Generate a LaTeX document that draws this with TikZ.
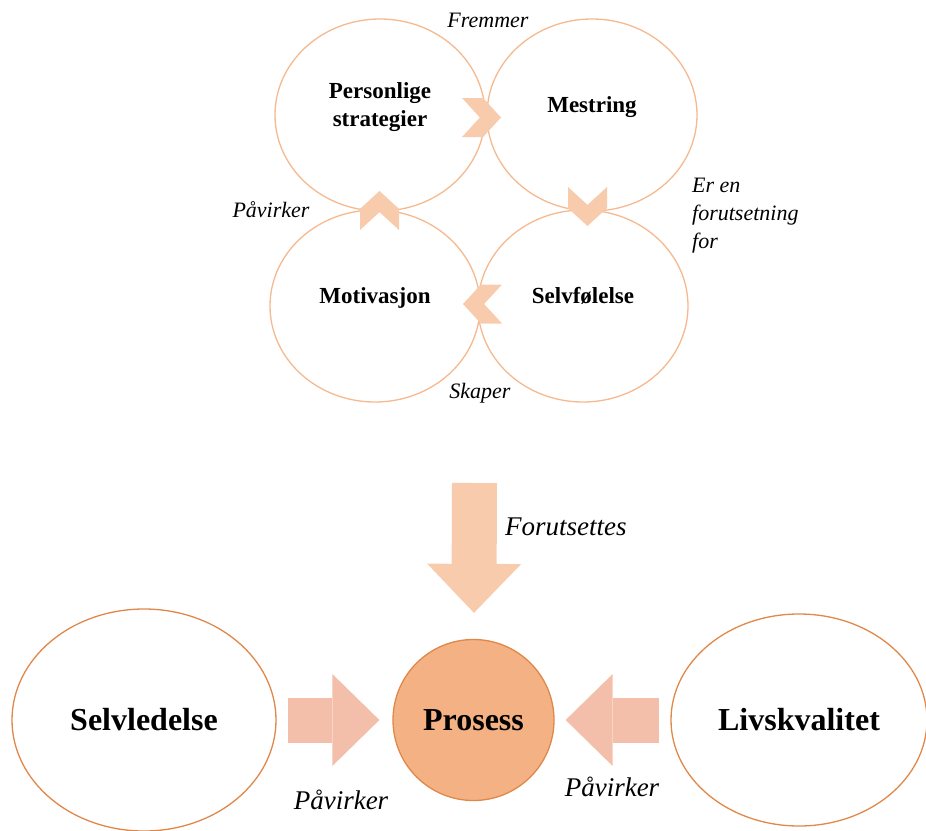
\documentclass[tikz,border=0pt]{standalone}
\usepackage{fontspec}
\setmainfont{Liberation Serif}
\usetikzlibrary{shapes.geometric,shapes.symbols,arrows.meta,calc}

\definecolor{ringcol}{HTML}{F4B98F}
\definecolor{darkring}{HTML}{E0874A}
\definecolor{chevcol}{HTML}{F8CBAD}
\definecolor{procfill}{HTML}{F3B184}
\definecolor{sidecol}{HTML}{F4BFAA}

\begin{document}
\begin{tikzpicture}[x=1pt,y=-1pt,
  ring/.style={ellipse,draw=ringcol,line width=1.3pt,inner sep=0pt,minimum width=210pt,minimum height=192pt,font=\fontsize{23}{28}\selectfont\bfseries,align=center,text depth=21pt},
  bigring/.style={ellipse,draw=darkring,line width=1.3pt,inner sep=0pt,font=\fontsize{32}{36}\selectfont\bfseries},
  chev/.style={signal,signal to=east,signal from=west,fill=chevcol,inner sep=0pt,minimum width=39pt,minimum height=39pt,signal pointer angle=95},
  lbl/.style={font=\fontsize{22}{28}\selectfont\itshape,inner sep=0pt,align=left},
  biglbl/.style={font=\fontsize{27}{30}\selectfont\itshape,inner sep=0pt},
  fat/.style={line width=45pt,-{Triangle[width=92pt,length=47pt,line width=0pt]}}]
    \useasboundingbox (0,0) rectangle (926,830);

    % the cycle
    \node[ring] (ps) at (380,115) {Personlige\\strategier};
    \node[ring] (me) at (592,115) {Mestring};
    \node[ring] (mo) at (375,306) {Motivasjon};
    \node[ring] (sf) at (583,306) {Selvfølelse};

    \node[chev,xshift=-4.5pt,yshift=-2.5pt] (c1) at ($(ps)!0.5!(me)$) {};
    \node[chev,yshift=4pt,rotate=-90] (c2) at ($(me)!0.5!(sf)$) {};
    \node[chev,xshift=3.5pt,yshift=2pt,rotate=180] (c3) at ($(sf)!0.5!(mo)$) {};
    \node[chev,xshift=2pt,rotate=90] (c4) at ($(mo)!0.5!(ps)$) {};

    \node[lbl] (l1) at (488,20) {Fremmer};
    \node[lbl,anchor=west] (l2) at (692,216) {Er en\\forutsetning\\for};
    \node[lbl] (l3) at (480,393) {Skaper};
    \node[lbl] (l4) at (271,210) {Påvirker};

    % the process
    \node[bigring,minimum width=264pt,minimum height=222pt] (sl) at (144,720) {Selvledelse};
    \node[bigring,fill=procfill,minimum size=161pt] (pr) at (473.5,720) {Prosess};
    \node[bigring,minimum width=256pt,minimum height=212pt] (lk) at (799,720) {Livskvalitet};
    \coordinate (top) at (474.5,483);

    \path
        (top) edge[fat,draw=chevcol,-{Triangle[width=94pt,length=49pt,line width=0pt]},shorten >=26pt] (pr)
        (sl) edge[fat,draw=sidecol,shorten <=11pt,shorten >=13pt] (pr)
        (lk) edge[fat,draw=sidecol,shorten <=11pt,shorten >=11pt] (pr)
        ;

    \node[biglbl,anchor=west] (f) at (505,527) {Forutsettes};
    \node[biglbl] (p1) at (341,800) {Påvirker};
    \node[biglbl] (p2) at (612,787) {Påvirker};
\end{tikzpicture}
\end{document}
